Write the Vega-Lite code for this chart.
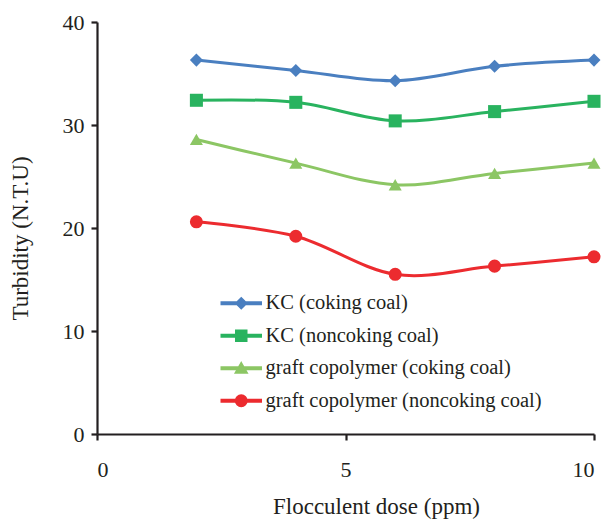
{
  "$schema": "https://vega.github.io/schema/vega-lite/v6.json",
  "width": 497,
  "height": 412,
  "autosize": {"type": "none"},
  "padding": {"left": 97, "top": 22, "right": 14, "bottom": 87},
  "background": "white",
  "config": {
    "view": {"stroke": null},
    "font": "Liberation Serif",
    "axis": {
      "grid": false,
      "domainColor": "#231f20",
      "domainWidth": 2.2,
      "tickColor": "#231f20",
      "tickWidth": 2.2,
      "tickSize": 6,
      "labelFont": "Liberation Serif",
      "labelFontSize": 22,
      "labelColor": "#231f20",
      "titleFont": "Liberation Serif",
      "titleFontSize": 23,
      "titleFontWeight": "normal",
      "titleColor": "#231f20"
    },
    "legend": {
      "labelFont": "Liberation Serif",
      "labelFontSize": 20.5,
      "labelColor": "#231f20",
      "labelLimit": 400,
      "padding": 0,
      "symbolOpacity": 1
    }
  },
  "data": {
    "values": [
      {"dose": 2, "turbidity": 36.3, "series": "KC (coking coal)"},
      {"dose": 4, "turbidity": 35.3, "series": "KC (coking coal)"},
      {"dose": 6, "turbidity": 34.3, "series": "KC (coking coal)"},
      {"dose": 8, "turbidity": 35.7, "series": "KC (coking coal)"},
      {"dose": 10, "turbidity": 36.3, "series": "KC (coking coal)"},
      {"dose": 2, "turbidity": 32.4, "series": "KC (noncoking coal)"},
      {"dose": 4, "turbidity": 32.2, "series": "KC (noncoking coal)"},
      {"dose": 6, "turbidity": 30.4, "series": "KC (noncoking coal)"},
      {"dose": 8, "turbidity": 31.3, "series": "KC (noncoking coal)"},
      {"dose": 10, "turbidity": 32.3, "series": "KC (noncoking coal)"},
      {"dose": 2, "turbidity": 28.6, "series": "graft copolymer (coking coal)"},
      {"dose": 4, "turbidity": 26.3, "series": "graft copolymer (coking coal)"},
      {"dose": 6, "turbidity": 24.2, "series": "graft copolymer (coking coal)"},
      {"dose": 8, "turbidity": 25.3, "series": "graft copolymer (coking coal)"},
      {"dose": 10, "turbidity": 26.3, "series": "graft copolymer (coking coal)"},
      {"dose": 2, "turbidity": 20.6, "series": "graft copolymer (noncoking coal)"},
      {"dose": 4, "turbidity": 19.2, "series": "graft copolymer (noncoking coal)"},
      {"dose": 6, "turbidity": 15.5, "series": "graft copolymer (noncoking coal)"},
      {"dose": 8, "turbidity": 16.3, "series": "graft copolymer (noncoking coal)"},
      {"dose": 10, "turbidity": 17.2, "series": "graft copolymer (noncoking coal)"}
    ]
  },
  "encoding": {
    "x": {
      "field": "dose",
      "type": "quantitative",
      "title": "Flocculent dose (ppm)",
      "scale": {"domain": [0, 10], "nice": false},
      "axis": {"values": [0, 5, 10], "labelPadding": 19, "titlePadding": 15, "titleX": 279}
    },
    "y": {
      "field": "turbidity",
      "type": "quantitative",
      "title": "Turbidity (N.T.U)",
      "scale": {"domain": [0, 40], "nice": false},
      "axis": {"values": [0, 10, 20, 30, 40], "labelPadding": 7, "titlePadding": 30, "titleY": 216}
    },
    "color": {
      "field": "series",
      "type": "nominal",
      "scale": {
        "domain": ["KC (coking coal)", "KC (noncoking coal)", "graft copolymer (coking coal)", "graft copolymer (noncoking coal)"],
        "range": ["#4a7fc0", "#29b35f", "#8cc664", "#ec2b2f"]
      },
      "legend": {
        "title": null,
        "orient": "none",
        "legendX": 134,
        "legendY": 271,
        "labelOffset": 14,
        "rowPadding": 11.5,
        "symbolOpacity": 1
      }
    }
  },
  "layer": [
    {
      "mark": {"type": "line", "interpolate": "cardinal", "strokeWidth": 3}
    },
    {
      "description": "Legend key: a short bar with the series marker on it",
      "mark": {"type": "point", "filled": true, "opacity": 0, "size": 121},
      "encoding": {
        "shape": {
          "field": "series",
          "type": "nominal",
          "scale": {
            "domain": ["KC (coking coal)", "KC (noncoking coal)", "graft copolymer (coking coal)", "graft copolymer (noncoking coal)"],
            "range": [
              "M-4,-0.25H4V0.25H-4Z M0,-1.1L1.1,0L0,1.1L-1.1,0Z",
              "M-4,-0.25H4V0.25H-4Z M-1.1,-1.1H1.1V1.1H-1.1Z",
              "M-4,-0.25H4V0.25H-4Z M0,-1.15L1.2,0.95H-1.2Z",
              "M-4,-0.25H4V0.25H-4Z M-1.15,0A1.15,1.15 0 1,1 1.15,0A1.15,1.15 0 1,1 -1.15,0Z"
            ]
          },
          "legend": null
        }
      }
    },
    {
      "transform": [{"filter": "datum.series === 'KC (coking coal)'"}],
      "mark": {"type": "point", "filled": true, "opacity": 1, "size": 170, "shape": "diamond"}
    },
    {
      "transform": [{"filter": "datum.series === 'KC (noncoking coal)'"}],
      "mark": {"type": "point", "filled": true, "opacity": 1, "size": 170, "shape": "square"}
    },
    {
      "transform": [{"filter": "datum.series === 'graft copolymer (coking coal)'"}],
      "mark": {"type": "point", "filled": true, "opacity": 1, "size": 170, "shape": "triangle-up"}
    },
    {
      "transform": [{"filter": "datum.series === 'graft copolymer (noncoking coal)'"}],
      "mark": {"type": "point", "filled": true, "opacity": 1, "size": 170, "shape": "circle"}
    }
  ]
}
